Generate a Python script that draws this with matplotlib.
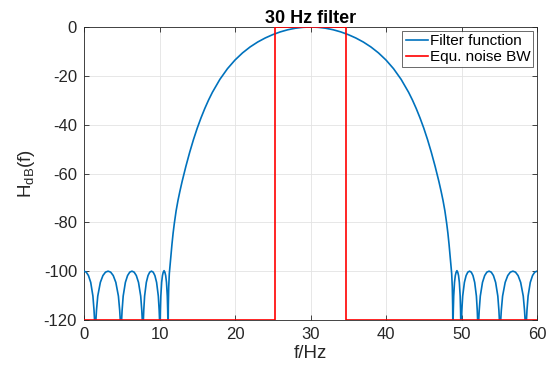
import matplotlib
matplotlib.use("Agg")
import matplotlib.pyplot as plt

plt.rcParams['font.family'] = ['Liberation Sans', 'DejaVu Sans']
plt.rcParams['axes.unicode_minus'] = False
plt.rcParams['mathtext.fontset'] = 'custom'
plt.rcParams['mathtext.rm'] = 'Liberation Sans'

# ---- data ----
# side lobes, left of the main lobe
side_left_f = [0.0, 0.30, 0.59, 0.89, 1.18, 1.33, 1.48,
               1.651, 1.822, 2.164, 2.506, 2.848, 3.19, 3.532, 3.874, 4.216, 4.558, 4.729, 4.9,
               5.045, 5.19, 5.48, 5.77, 6.06, 6.35, 6.64, 6.93, 7.22, 7.51, 7.655, 7.8,
               7.914, 8.027, 8.254, 8.481, 8.708, 8.935, 9.162, 9.389, 9.616, 9.843, 9.957, 10.07,
               10.124, 10.177, 10.284, 10.391, 10.498, 10.605, 10.712, 10.819, 10.926, 11.033, 11.087]
side_left_db = [-100.0, -100.4, -101.8, -104.6, -110.2, -116.1, -125,
                -116.1, -110.2, -104.6, -101.8, -100.4, -100.0, -100.4, -101.8, -104.6, -110.2, -116.1, -125,
                -116.1, -110.2, -104.6, -101.8, -100.4, -100.0, -100.4, -101.8, -104.6, -110.2, -116.1, -125,
                -116.1, -110.2, -104.6, -101.8, -100.4, -100.0, -100.4, -101.8, -104.6, -110.2, -116.1, -125,
                -116.1, -110.2, -104.6, -101.8, -100.4, -99.8, -100.4, -101.8, -104.6, -110.2, -116.1]

# main lobe, rising flank
main_left_f = [11.14, 11.17, 11.22, 11.3, 11.4, 11.5, 11.65, 11.8, 11.96, 12.2, 12.45, 12.7,
               13.0, 13.5, 14.0, 14.5, 15.0, 15.5, 16.0, 16.5, 17.0,
               18.0, 19.0, 20.0, 21.0, 22.0, 23.0, 24.0, 25.0, 26.0, 27.0, 28.0, 29.0, 30.0]
main_left_db = [-125, -114, -106.5, -101, -97.5, -94, -89, -84.5, -80.5, -75.3, -71.0, -67.3,
                -63.2, -57.0, -51.3, -46.1, -41.4, -37.2, -33.37, -29.9, -26.78,
                -21.43, -17.08, -13.53, -10.6, -8.17, -6.16, -4.5, -3.125, -2.0, -1.125, -0.5, -0.125, 0.0]

# main lobe, falling flank
main_right_f = [31.0, 32.0, 33.0, 34.0, 35.0, 36.0, 37.0, 38.0, 39.0, 40.0, 41.0, 42.0, 43.0,
                43.5, 44.0, 44.5, 45.0, 45.5, 46.0, 46.5, 47.0,
                47.3, 47.55, 47.8, 48.04, 48.2, 48.35, 48.5, 48.6, 48.7, 48.78, 48.83, 48.86]
main_right_db = [-0.125, -0.5, -1.125, -2.0, -3.125, -4.5, -6.16, -8.17, -10.6, -13.53, -17.08, -21.43, -26.78,
                 -29.9, -33.37, -37.2, -41.4, -46.1, -51.3, -57.0, -63.2,
                 -67.3, -71.0, -75.3, -80.5, -84.5, -89, -94, -97.5, -101, -106.5, -114, -125]

# side lobes, right of the main lobe
side_right_f = [48.914, 48.967, 49.074, 49.181, 49.288, 49.395, 49.502, 49.609, 49.716, 49.823, 49.877, 49.93,
                50.044, 50.157, 50.384, 50.611, 50.838, 51.065, 51.292, 51.519, 51.746, 51.973, 52.087, 52.2,
                52.345, 52.49, 52.78, 53.07, 53.36, 53.65, 53.94, 54.23, 54.52, 54.81, 54.955, 55.1,
                55.271, 55.442, 55.784, 56.126, 56.468, 56.81, 57.152, 57.494, 57.836, 58.178, 58.349, 58.52,
                58.67, 58.82, 59.11, 59.41, 59.7, 60.0]
side_right_db = [-116.1, -110.2, -104.6, -101.8, -100.4, -99.8, -100.4, -101.8, -104.6, -110.2, -116.1, -125,
                 -116.1, -110.2, -104.6, -101.8, -100.4, -100.0, -100.4, -101.8, -104.6, -110.2, -116.1, -125,
                 -116.1, -110.2, -104.6, -101.8, -100.4, -100.0, -100.4, -101.8, -104.6, -110.2, -116.1, -125,
                 -116.1, -110.2, -104.6, -101.8, -100.4, -100.0, -100.4, -101.8, -104.6, -110.2, -116.1, -125,
                 -116.1, -110.2, -104.6, -101.8, -100.4, -100.0]

# equivalent noise bandwidth rectangle
enbw_f = [0.0, 25.3, 25.3, 34.65, 34.65, 60.0]
enbw_db = [-120, -120, 0, 0, -120, -120]

x_ticks = [0, 10, 20, 30, 40, 50, 60]
y_ticks = [-120, -100, -80, -60, -40, -20, 0]

# ---- plot ----
fig = plt.figure(figsize=(5.53, 3.74), dpi=100)
ax = fig.add_axes([84/553, 54/374, 453/553, 293/374])

blue_f = side_left_f + main_left_f + main_right_f + side_right_f
blue_db = side_left_db + main_left_db + main_right_db + side_right_db
ax.plot(blue_f, blue_db, color='#0072BD', lw=1.2, label='Filter function', zorder=3)
ax.plot(enbw_f, enbw_db, color='#FF0000', lw=1.2, label='Equ. noise BW', zorder=4)

ax.set_xlim(0, 60)
ax.set_ylim(-120, 0)
ax.set_xticks(x_ticks)
ax.set_yticks(y_ticks)
ax.grid(True, color='#e3e3e3', lw=0.6)
ax.set_axisbelow(True)
ax.tick_params(direction='in', length=3.5, width=0.6, colors='#262626',
               labelsize=12, top=True, right=True, pad=5)
for s in ax.spines.values():
    s.set_color('#262626')
    s.set_linewidth(0.6)

ax.set_xlabel('f/Hz', fontsize=13.5, color='#262626', labelpad=2)
ax.set_ylabel(r'H$_{\mathrm{dB}}$(f)', fontsize=13.5, color='#262626', labelpad=5)
ax.set_title('30 Hz filter', fontsize=13, fontweight='bold', pad=3)

leg = ax.legend(loc='upper right', fontsize=11, frameon=True, fancybox=False,
                edgecolor='#262626', handlelength=1.45, handletextpad=0.12,
                borderpad=0.2, labelspacing=0.15, borderaxespad=0.25)
leg.get_frame().set_linewidth(0.6)

fig.savefig('out.png', dpi=100)
